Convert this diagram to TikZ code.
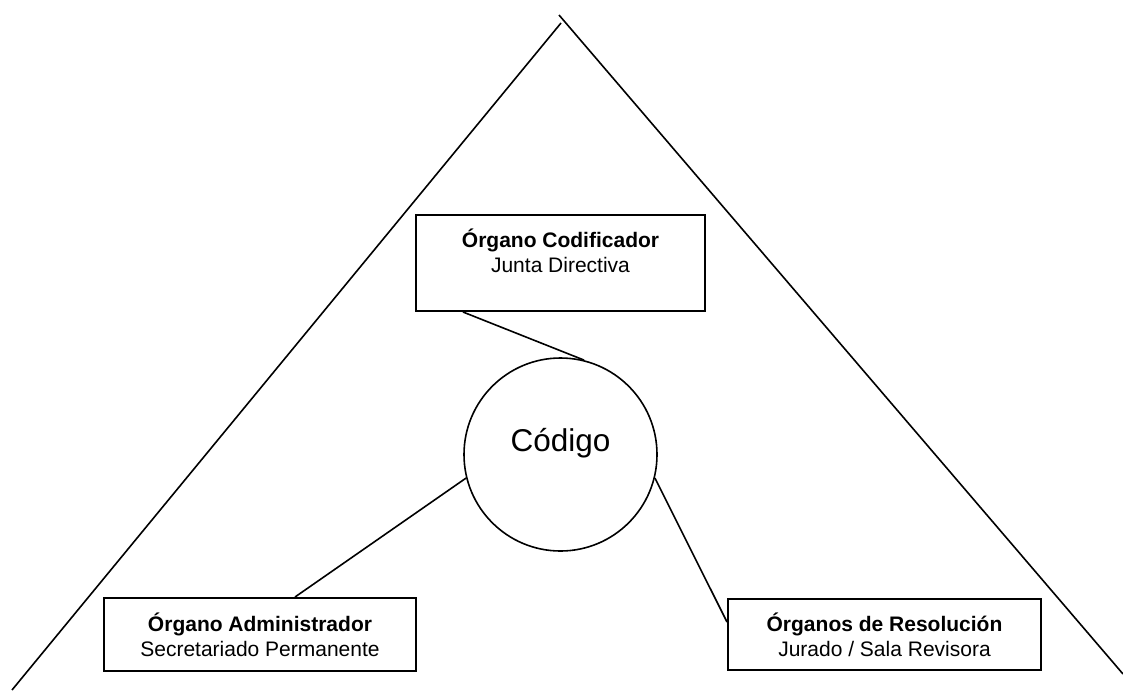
\documentclass[tikz,border=0pt]{standalone}
\usepackage{fontspec}
\setmainfont{Liberation Sans}
\usetikzlibrary{shapes,positioning}

\begin{document}
\begin{tikzpicture}[
        x=1pt, y=-1pt,
        organo/.style = {rectangle, draw=black, line width=2pt, align=center, inner sep=0pt,
            font=\fontsize{21}{25}\selectfont},
        nucleo/.style = {circle, draw=black, line width=1.6pt, minimum size=193pt, inner sep=0pt,
            text depth=30pt, font=\fontsize{31.5}{36}\selectfont},
        enlace/.style = {line width=1.6pt}
    ]
    \useasboundingbox (0,0) rectangle (1123,691);

    % triangle
    \coordinate (apexL) at (561,23);
    \coordinate (apexR) at (559,15);
    \coordinate (baseL) at (12,690);
    \coordinate (baseR) at (1123,674);
    \draw[enlace] (baseL) -- (apexL);
    \draw[enlace] (apexR) -- (baseR);

    %nodes
    \node [organo, minimum width=289pt, minimum height=96pt] (cod) at (560.5,263) {\textbf{Órgano Codificador}\\Junta Directiva\\~};
    \node [nucleo] (circ) at (560.5,454.5) {Código};
    \node [organo, minimum width=312pt, minimum height=73pt] (adm) at (260,634.5) {\textbf{Órgano Administrador}\\Secretariado Permanente};
    \node [organo, minimum width=313pt, minimum height=71pt] (res) at (884.5,634.5) {\textbf{Órganos de Resolución}\\Jurado / Sala Revisora};

    \path ([xshift=-97.5pt]cod.south) edge[enlace] (circ.76);
    \path (circ.194) edge[enlace] ([xshift=35pt]adm.north);
    \path (circ.346.5) edge[enlace] ([yshift=12.5pt]res.west);

\end{tikzpicture}
\end{document}
